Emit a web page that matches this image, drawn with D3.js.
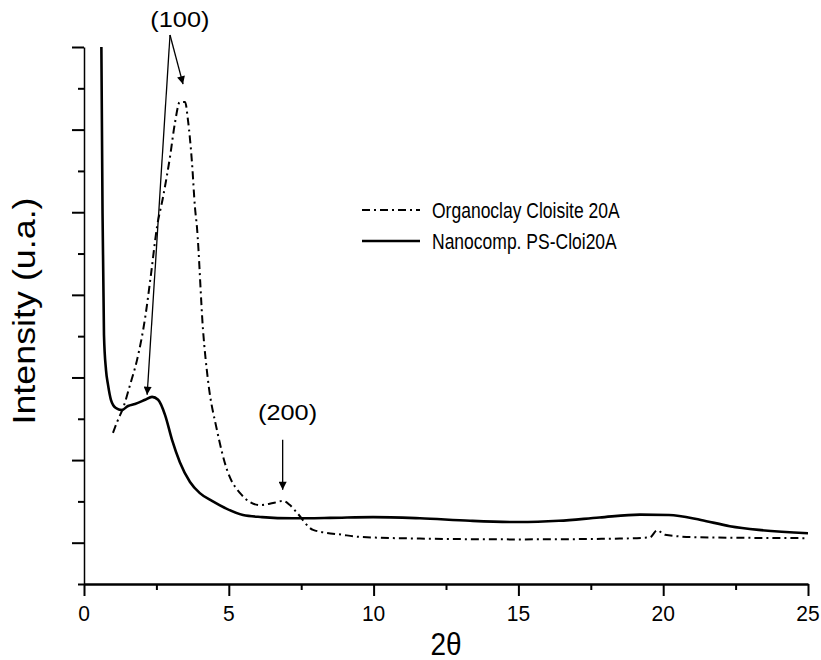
<!DOCTYPE html>
<html>
<head>
<meta charset="utf-8">
<script src="https://cdn.jsdelivr.net/npm/d3@7"></script>
<style>
  body { margin: 0; background: #fff; }
  svg { display: block; }
  text { font-family: "Liberation Sans", Arial, Helvetica, sans-serif; fill: #000; }
</style>
</head>
<body>
<svg id="chart" width="821" height="660"></svg>
<script>
// XRD patterns: 2θ (degrees) against intensity (arbitrary units)
const organoTheta = [1.00, 1.17, 1.35, 1.59, 1.83, 2.11, 2.31, 2.52, 2.73, 2.97, 3.14, 3.31, 3.49, 3.59, 3.73, 3.83, 3.90, 4.11, 4.28, 4.59, 4.94, 5.39, 6.08, 6.53, 6.87, 7.11, 7.36, 7.91, 8.94, 9.53, 11.6, 15.06, 18.5, 19.54, 19.79, 20.06, 21.27, 25.0];
const organoIntensity = [3.66, 3.97, 4.26, 4.82, 5.42, 6.44, 7.48, 8.64, 9.37, 10.34, 11.16, 11.67, 11.67, 11.23, 10.19, 9.13, 8.64, 6.15, 4.94, 3.73, 2.76, 2.20, 1.91, 1.96, 2.01, 1.91, 1.72, 1.31, 1.19, 1.14, 1.10, 1.08, 1.10, 1.13, 1.30, 1.19, 1.13, 1.11];

const nanoTheta = [0.60, 0.64, 0.69, 0.76, 0.83, 0.93, 1.10, 1.30, 1.52, 1.76, 2.11, 2.35, 2.56, 2.80, 3.04, 3.31, 3.66, 4.00, 4.42, 4.87, 5.49, 6.15, 7.22, 8.50, 9.98, 11.6, 13.33, 15.0, 16.4, 17.8, 19.2, 20.2, 21.3, 22.3, 23.3, 25.0];
const nanoIntensity = [13.0, 8.98, 6.03, 5.18, 4.82, 4.46, 4.26, 4.21, 4.31, 4.36, 4.46, 4.53, 4.46, 4.09, 3.49, 2.95, 2.47, 2.20, 2.01, 1.84, 1.67, 1.62, 1.59, 1.60, 1.62, 1.59, 1.53, 1.50, 1.53, 1.61, 1.68, 1.67, 1.55, 1.40, 1.31, 1.23];

const seriesNames = ["Organoclay Cloisite 20A", "Nanocomp. PS-Cloi20A"];
const xTicks = [0, 5, 10, 15, 20, 25];

// reflection annotations: label, label anchor, arrow start, arrow tips
const peakLabels = ["(100)", "(200)"];
const peakLabelPos = [[3.31, 13.49], [7.03, 3.98]];
const peakArrowFrom = [[2.97, 13.29], [6.86, 3.49]];
const peakArrowTo = [[[3.42, 12.1], [2.18, 4.58]], [[6.86, 2.28]]];

const svg = d3.select("#chart");
const x = d3.scaleLinear().domain([0, 25]).range([84, 808]);
const y = d3.scaleLinear().domain([0, 13]).range([584, 47]);

// text placed at (px, py) with a stretch about its own anchor
function stretchedText(px, py, sx, sy, str, size, anchor) {
  return svg.append("g")
    .attr("transform", `translate(${px},${py}) scale(${sx},${sy})`)
    .append("text")
    .attr("text-anchor", anchor)
    .attr("font-size", size)
    .text(str);
}

// arrowhead
svg.append("defs").append("marker")
  .attr("id", "arrowhead")
  .attr("viewBox", "0 0 10 10")
  .attr("refX", 10).attr("refY", 5)
  .attr("markerUnits", "userSpaceOnUse")
  .attr("markerWidth", 14).attr("markerHeight", 8)
  .attr("orient", "auto")
  .append("path").attr("d", "M0,0 L10,5 L0,10 Z").attr("fill", "#000");

// x axis: ticks every 2.5, long ones every 5
const xAxis = svg.append("g")
  .attr("transform", `translate(0,${y(0)})`)
  .call(d3.axisBottom(x)
    .tickValues(d3.range(0, 25.01, 2.5))
    .tickSize(12).tickSizeOuter(0)
    .tickFormat(""));
xAxis.select(".domain").attr("stroke", "#000").attr("stroke-width", 2.6);
xAxis.selectAll(".tick line").attr("stroke", "#000").attr("stroke-width", 2)
  .attr("y2", d => xTicks.includes(d) ? 12 : 6);
xTicks.forEach(t => stretchedText(x(t), 621, 1, 1.08, t, 21, "middle"));

// y axis: unlabelled, long and short ticks alternating
const yAxis = svg.append("g")
  .attr("transform", `translate(${x(0)},0)`)
  .call(d3.axisLeft(y)
    .tickValues(d3.range(0, 14))
    .tickSize(12).tickSizeOuter(0)
    .tickFormat(""));
yAxis.select(".domain").attr("stroke", "#000").attr("stroke-width", 1.5);
yAxis.selectAll(".tick line").attr("stroke", "#000").attr("stroke-width", 2)
  .attr("x2", d => d % 2 === 1 ? -12 : -6);

// axis titles
stretchedText(x(12.5), 655, 1, 1.1, "2θ", 28, "middle");
svg.append("g")
  .attr("transform", "translate(35,311) rotate(-90) scale(1.12,1)")
  .append("text")
  .attr("text-anchor", "middle").attr("font-size", 32)
  .text("Intensity (u.a.)");

// curves
const line = d3.line()
  .x(d => x(d[0])).y(d => y(d[1]))
  .curve(d3.curveMonotoneX);

svg.append("path")
  .datum(d3.zip(organoTheta, organoIntensity))
  .attr("d", line)
  .attr("fill", "none").attr("stroke", "#000").attr("stroke-width", 2)
  .attr("stroke-dasharray", "8,4,2,4");

svg.append("path")
  .datum(d3.zip(nanoTheta, nanoIntensity))
  .attr("d", line)
  .attr("fill", "none").attr("stroke", "#000").attr("stroke-width", 2.6);

// annotations
peakLabels.forEach((lab, i) => {
  stretchedText(x(peakLabelPos[i][0]), y(peakLabelPos[i][1]), 1.15, 1, lab, 22, "middle");
  peakArrowTo[i].forEach(tip => {
    svg.append("line")
      .attr("x1", x(peakArrowFrom[i][0])).attr("y1", y(peakArrowFrom[i][1]))
      .attr("x2", x(tip[0])).attr("y2", y(tip[1]))
      .attr("stroke", "#000").attr("stroke-width", 1.3)
      .attr("marker-end", "url(#arrowhead)");
  });
});

// legend
const legendStyles = [
  { dash: "8,4,2,4", width: 2 },
  { dash: null, width: 2.6 }
];
seriesNames.forEach((name, i) => {
  const ly = 210 + i * 31;
  svg.append("line")
    .attr("x1", 362).attr("x2", 420).attr("y1", ly).attr("y2", ly)
    .attr("stroke", "#000").attr("stroke-width", legendStyles[i].width)
    .attr("stroke-dasharray", legendStyles[i].dash);
  stretchedText(432, ly + 8, 1, 1.22, name, 17.5, "start");
});
</script>
</body>
</html>
